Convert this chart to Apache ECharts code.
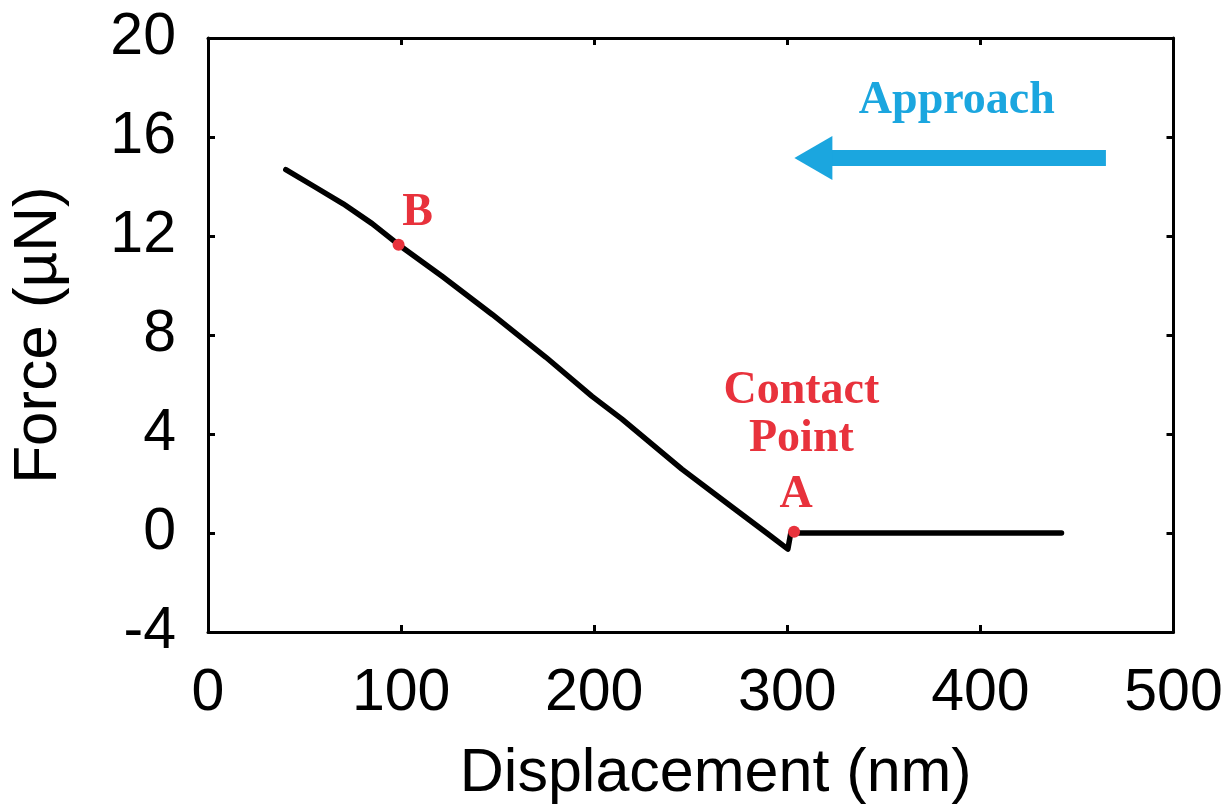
<!DOCTYPE html>
<html>
<head>
<meta charset="utf-8">
<script src="https://cdn.jsdelivr.net/npm/echarts@6/dist/echarts.min.js"></script>
<style>
html,body{margin:0;padding:0;background:#fff;}
#chart{width:1229px;height:810px;}
</style>
</head>
<body>
<div id="chart"></div>
<script>
// Force–displacement curve (approach)
const displacement = [40.3, 55, 70, 85, 98.7, 121.4, 147.2, 175, 198.9, 214.4, 245.4, 270, 290, 300.3, 301.8, 330, 370, 410, 442];
const force        = [14.68, 14.0, 13.3, 12.5, 11.65, 10.36, 8.83, 7.1, 5.52, 4.6, 2.58, 1.13, -0.04, -0.65, 0.0, 0.0, 0.0, 0.0, 0.0];

const pointNames = ['B', 'A'];
const pointX = [98.7, 303.5];
const pointY = [11.65, 0.05];

const arrowStart = [465, 15.15];
const arrowEnd = [313.5, 15.15];

const xTicks = [0, 100, 200, 300, 400, 500];
const yTicks = [-4, 0, 4, 8, 12, 16, 20];

const red = '#E8323C';
const cyan = '#1BA6DF';

const chart = echarts.init(document.getElementById('chart'));
const axisLine = {show: true, onZero: false, lineStyle: {color: '#000', width: 3}};
const axisTick = {show: true, inside: true, length: 7, lineStyle: {color: '#000', width: 3}};
const tickFont = {color: '#000', fontSize: 59, fontFamily: 'Liberation Sans, Arial, sans-serif'};

chart.setOption({
  animation: false,
  backgroundColor: '#fff',
  grid: {left: 204.5, top: 38, width: 969, height: 595, containLabel: false},
  xAxis: [{
    type: 'value', min: xTicks[0], max: xTicks[xTicks.length-1], interval: 100,
    position: 'bottom',
    axisLine, axisTick, splitLine: {show: false},
    axisLabel: Object.assign({margin: 32}, tickFont),
    name: 'Displacement (nm)', nameLocation: 'middle', nameGap: 112,
    nameTextStyle: {color: '#000', fontSize: 61, fontFamily: 'Liberation Sans, Arial, sans-serif', padding: [0, 0, 0, 50]}
  }, {
    type: 'value', min: xTicks[0], max: xTicks[xTicks.length-1], interval: 100,
    position: 'top',
    axisLine, axisTick, splitLine: {show: false}, axisLabel: {show: false}
  }],
  yAxis: [{
    type: 'value', min: yTicks[0], max: yTicks[yTicks.length-1], interval: 4,
    position: 'left',
    axisLine, axisTick, splitLine: {show: false},
    axisLabel: Object.assign({margin: 32}, tickFont),
    name: 'Force (µN)', nameLocation: 'middle', nameGap: 138, nameRotate: 90,
    nameTextStyle: {color: '#000', fontSize: 62, fontFamily: 'Liberation Sans, Arial, sans-serif'}
  }, {
    type: 'value', min: yTicks[0], max: yTicks[yTicks.length-1], interval: 4,
    position: 'right',
    axisLine, axisTick, splitLine: {show: false}, axisLabel: {show: false}
  }],
  series: [{
    name: 'Curve',
    type: 'line',
    data: displacement.map((x, i) => [x, force[i]]),
    showSymbol: false,
    lineStyle: {color: '#000', width: 5.5, cap: 'round', join: 'round'},
    z: 2,
    markLine: {
      silent: true,
      symbol: ['none', 'triangle'],
      symbolSize: [44, 38],
      label: {show: false},
      lineStyle: {color: cyan, width: 16, type: 'solid', opacity: 1},
      itemStyle: {color: cyan},
      data: [[{coord: arrowStart}, {coord: arrowEnd}]]
    }
  }, {
    name: 'Points',
    type: 'scatter',
    data: pointNames.map((n, i) => ({name: n, value: [pointX[i], pointY[i]],
      label: {offset: n === 'B' ? [19, -32] : [2, -37]}})),
    symbolSize: 12,
    itemStyle: {color: red, opacity: 1},
    z: 3,
    label: {
      show: true, position: 'inside', formatter: '{b}',
      color: red, fontSize: 46, fontWeight: 'bold', fontFamily: 'Liberation Serif, Times New Roman, serif'
    }
  }, {
    name: 'Annotations',
    type: 'scatter',
    symbolSize: 0,
    itemStyle: {opacity: 1},
    data: [
      {name: 'Contact\nPoint', value: [307.3, 4.76],
        label: {color: red, lineHeight: 48}},
      {name: 'Approach', value: [387.8, 17.46],
        label: {color: cyan, lineHeight: 48}}
    ],
    label: {
      show: true, position: 'inside', formatter: '{b}', align: 'center', verticalAlign: 'middle',
      fontSize: 46, fontWeight: 'bold', fontFamily: 'Liberation Serif, Times New Roman, serif'
    }
  }]
});
</script>
</body>
</html>
